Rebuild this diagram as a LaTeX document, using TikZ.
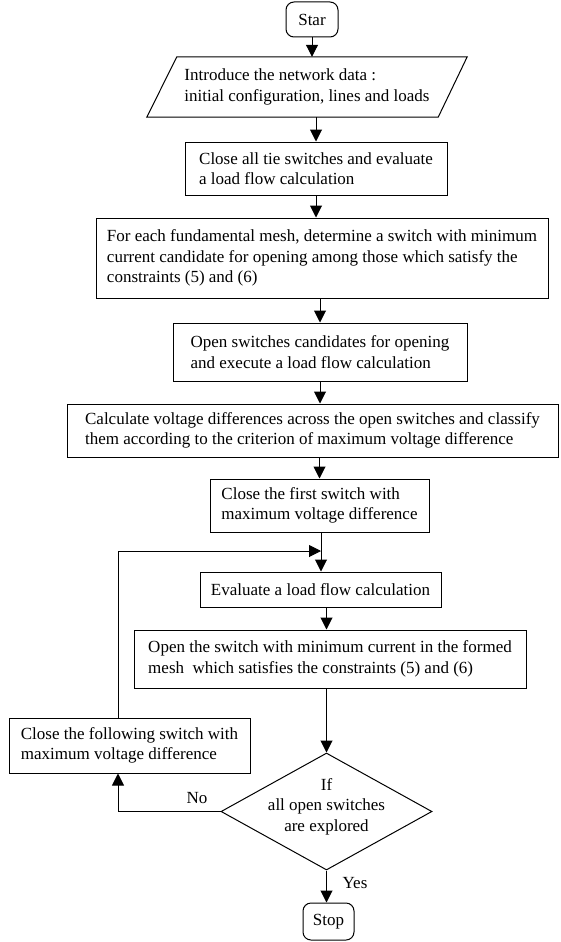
\documentclass[tikz,border=0pt]{standalone}
\usepackage{fontspec}
\setmainfont{Liberation Serif}
\usetikzlibrary{arrows.meta,shapes.geometric,calc}
\begin{document}
\begin{tikzpicture}[x=1pt,y=-1pt,
  every node/.style={font=\fontsize{17}{20.5}\selectfont},
  box/.style={draw,line width=1pt,rectangle,align=left,inner xsep=3pt,inner ysep=2pt},
  term/.style={draw,line width=1pt,rounded corners=8pt,inner sep=2pt},
  arr/.style={line width=1pt,-{Triangle[length=12pt,width=12pt]}},
  lbl/.style={inner sep=0pt}]
\fill[white] (0,0) rectangle (560,942);
\useasboundingbox (0,0) rectangle (560,942);

\node[term, minimum width=52pt, minimum height=35pt] (start) at (312,19.5) {Star};
\node[align=left, minimum width=320pt, minimum height=60pt, inner sep=0pt] (intro) at (307,87)
  {Introduce the network data :\\initial configuration, lines and loads};
\draw[line width=1pt] ($(intro.north west)+(30,0)$) -- (intro.north east)
  -- ($(intro.south east)+(-29,0)$) -- (intro.south west) -- cycle;

\node[box, minimum width=262pt, minimum height=53pt] (b2) at (316,168.5)
  {Close all tie switches and evaluate\\a load flow calculation};
\node[box, minimum width=452pt, minimum height=80pt] (b3) at (322,258)
  {For each fundamental mesh, determine a switch with minimum\\current candidate for opening among those which satisfy the\\constraints (5) and (6)};
\node[box, minimum width=294pt, minimum height=58pt] (b4) at (320,352)
  {Open switches candidates for opening\\and execute a load flow calculation};
\node[box, minimum width=491pt, minimum height=53pt] (b5) at (312.5,430.5)
  {Calculate voltage differences across the open switches and classify\\them according to the criterion of maximum voltage difference};
\node[box, minimum width=219pt, minimum height=53pt] (b6) at (319.5,505.5)
  {Close the first switch with\\maximum voltage difference};
\node[box, minimum width=241pt, minimum height=35pt] (b7) at (320.5,589.5)
  {Evaluate a load flow calculation};
\node[box, minimum width=392pt, minimum height=58pt] (b8) at (330,659)
  {Open the switch with minimum current in the formed\\mesh\ \ which satisfies the constraints (5) and (6)};
\node[box, minimum width=241pt, minimum height=55pt] (bl) at (129.5,745.5)
  {Close the following switch with\\maximum voltage difference};
\node[diamond, draw, line width=1pt, inner sep=0pt, minimum width=211pt, minimum height=117pt] (dec) at (326.5,811.5) {};
\node[align=center, inner sep=0pt] (dectext) at ($(dec.center)+(0,-5)$) {If\\all open switches\\are explored};
\node[term, minimum width=51pt, minimum height=37pt] (stop) at (328.5,921.5) {Stop};

\coordinate (loopx) at (118,551);
\coordinate (jn) at (321,551);

\draw[arr] (start.south) -- (start.south |- intro.north);
\draw[arr] (b2.north |- intro.south) -- (b2.north);
\draw[arr] (b2.south) -- (b2.south |- b3.north);
\draw[arr] (b4.north |- b3.south) -- (b4.north);
\draw[arr] (b4.south) -- (b4.south |- b5.north);
\draw[arr] (b6.north |- b5.south) -- (b6.north);
\draw[arr] (b6.south -| jn) -- (b7.north -| jn);
\draw[arr] (dec.north |- b7.south) -- (dec.north |- b8.north);
\draw[arr] (dec.north |- b8.south) -- (dec.north);
\draw[arr] (dec.south) -- (dec.south |- stop.north);
\draw[arr] (dec.west) -| (bl.south -| loopx);
\draw[arr] (bl.north -| loopx) |- (jn);

\node[lbl] (no) at (197,798) {No};
\node[lbl] (yes) at (355,883) {Yes};
\end{tikzpicture}
\end{document}
